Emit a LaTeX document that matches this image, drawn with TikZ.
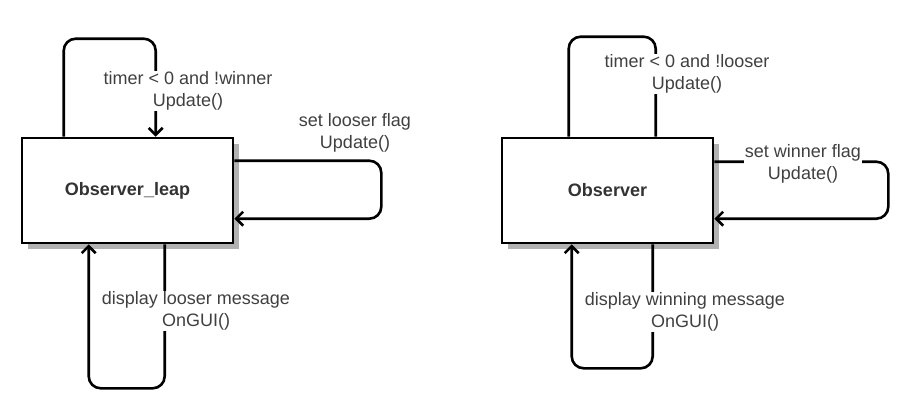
\documentclass[tikz,border=0pt]{standalone}
\usepackage{fontspec}
\setmainfont{Liberation Sans}
\usetikzlibrary{shadows,arrows.meta}

\begin{document}
\begin{tikzpicture}[x=1pt, y=-1pt,
    state/.style = {draw, line width=2.6pt, fill=white, minimum width=211pt, minimum height=105pt,
      font=\fontsize{18}{20}\selectfont\bfseries, text=black!80,
      drop shadow={shadow xshift=6pt, shadow yshift=-6pt, fill=black!30, opacity=1}},
    edge/.style = {line width=2.6pt, rounded corners=12pt},
    lbl/.style = {fill=white, align=center, inner sep=1pt, text=black!75,
      font=\fontsize{18}{22}\selectfont}]
        \useasboundingbox (0, 0) rectangle (905, 408);
        \node[state] (obsleap) at (127.5, 190.5) {Observer\_leap};
        \node[state] (obs) at (607.5, 190.5) {Observer};
        % Observer_leap loops
        \draw[edge, -{Straight Barb[length=7pt, width=14pt]}] ([xshift=43pt]obsleap.north west) -- ++(0, -98) -| ([xshift=135pt]obsleap.north west);
        \draw[edge, -{Straight Barb[length=7pt, width=14pt]}] ([yshift=-24pt]obsleap.north east) -- ++(147, 0) |- ([yshift=-82pt]obsleap.north east);
        \draw[edge, -{Straight Barb[length=7pt, width=14pt]}] ([xshift=144pt]obsleap.south west) -- ++(0, 144) -| ([xshift=68pt]obsleap.south west);
        \node[lbl] (winnerl) at (188, 91) {timer < 0 and !winner\\Update()};
        \node[lbl] (looserf) at (355, 132.5) {set looser flag\\Update()};
        \node[lbl] (looserm) at (196, 311) {display looser message\\OnGUI()};
        % Observer loops
        \draw[edge] ([xshift=68pt]obs.north west) -- ++(0, -100) -| ([xshift=155pt]obs.north west);
        \draw[edge, -{Straight Barb[length=7pt, width=14pt]}] ([yshift=-25pt]obs.north east) -- ++(174, 0) |- ([yshift=-82pt]obs.north east);
        \draw[edge, -{Straight Barb[length=7pt, width=14pt]}] ([xshift=152pt]obs.south west) -- ++(0, 124) -| ([xshift=71pt]obs.south west);
        \node[lbl] (looserl) at (687, 74) {timer < 0 and !looser\\Update()};
        \node[lbl] (winnerf) at (803, 163.5) {set winner flag\\Update()};
        \node[lbl] (winnerm) at (685, 312) {display winning message\\OnGUI()};
      \end{tikzpicture}
\end{document}
